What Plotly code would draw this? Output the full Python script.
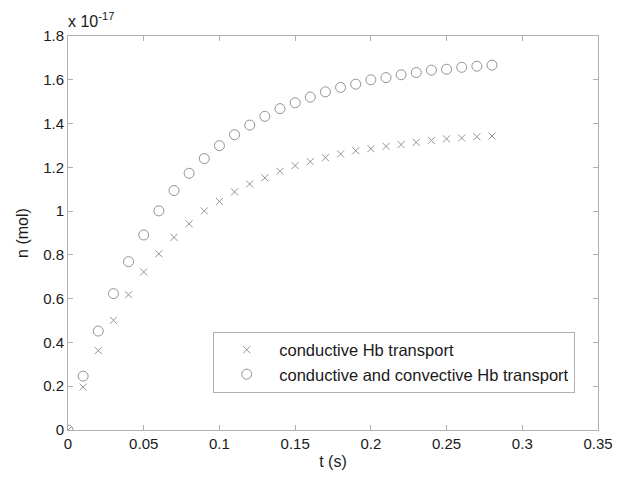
import plotly.graph_objects as go

# time (s)
t = [0.00, 0.01, 0.02, 0.03, 0.04, 0.05, 0.06, 0.07, 0.08, 0.09, 0.10,
     0.11, 0.12, 0.13, 0.14, 0.15, 0.16, 0.17, 0.18, 0.19, 0.20,
     0.21, 0.22, 0.23, 0.24, 0.25, 0.26, 0.27, 0.28]

# n (mol), in units of 1e-17
n_conductive = [0.0, 0.196, 0.363, 0.501, 0.618, 0.722, 0.805, 0.880, 0.942, 1.001, 1.044,
                1.088, 1.124, 1.152, 1.182, 1.208, 1.226, 1.244, 1.261, 1.276, 1.285,
                1.296, 1.304, 1.314, 1.323, 1.330, 1.334, 1.340, 1.343]
n_conv = [0.0, 0.246, 0.452, 0.623, 0.769, 0.891, 1.001, 1.094, 1.173, 1.240, 1.299,
          1.349, 1.393, 1.433, 1.468, 1.495, 1.521, 1.545, 1.565, 1.580, 1.600,
          1.610, 1.623, 1.633, 1.644, 1.648, 1.657, 1.662, 1.667]

x_ticks = [0, 0.05, 0.1, 0.15, 0.2, 0.25, 0.3, 0.35]
x_tick_text = ["0", "0.05", "0.1", "0.15", "0.2", "0.25", "0.3", "0.35"]
y_ticks = [0, 0.2, 0.4, 0.6, 0.8, 1.0, 1.2, 1.4, 1.6, 1.8]
y_tick_text = ["0", "0.2", "0.4", "0.6", "0.8", "1", "1.2", "1.4", "1.6", "1.8"]

names = ["conductive Hb transport", "conductive and convective Hb transport"]

mk_color = "#939393"
ax_color = "#b0b0b0"
txt_color = "#1a1a1a"
font = "Liberation Sans, Arial, sans-serif"

fig = go.Figure()
fig.add_trace(go.Scatter(
    x=t, y=n_conductive, mode="markers", name=names[0],
    marker=dict(symbol="x-thin-open", size=7, color=mk_color,
                line=dict(color=mk_color, width=1)),
))
fig.add_trace(go.Scatter(
    x=t, y=n_conv, mode="markers", name=names[1],
    marker=dict(symbol="circle-open", size=10, color=mk_color,
                line=dict(color=mk_color, width=1)),
))

axis_common = dict(
    showgrid=False, zeroline=False, showline=True, linecolor=ax_color, linewidth=1,
    mirror="ticks", ticks="inside", ticklen=5, tickcolor=ax_color,
    tickfont=dict(family=font, size=15, color=txt_color),
)

fig.update_layout(
    width=616, height=470,
    margin=dict(l=59.5, r=26.3, t=28, b=47.5),
    paper_bgcolor="white", plot_bgcolor="white",
    font=dict(family=font, size=15, color=txt_color),
    xaxis=dict(range=[0, 0.35], tickvals=x_ticks, ticktext=x_tick_text,
               title=dict(text="t (s)", font=dict(size=16), standoff=4),
               **axis_common),
    yaxis=dict(range=[0, 1.8], tickvals=y_ticks, ticktext=y_tick_text,
               title=dict(text="n (mol)", font=dict(size=16), standoff=10),
               **axis_common),
    legend=dict(
        x=0.274, xanchor="left", y=0.25, yanchor="top",
        bgcolor="white", bordercolor=ax_color, borderwidth=1,
        font=dict(family=font, size=16.5, color=txt_color),
        itemwidth=55,
    ),
    showlegend=True,
)

fig.add_annotation(
    xref="paper", yref="paper", x=0, y=1, xanchor="left", yanchor="bottom",
    text="x 10<sup>-17</sup>", showarrow=False,
    font=dict(family=font, size=16, color=txt_color), yshift=4, xshift=-2,
)

fig.write_html("out.html")
